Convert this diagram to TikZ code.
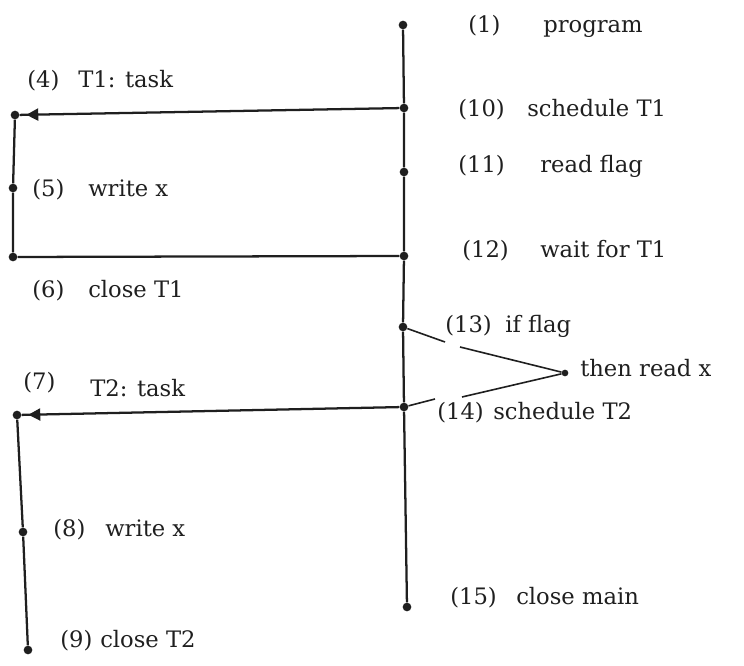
\documentclass[tikz,border=0pt]{standalone}
\usepackage{fontspec}
\setmainfont{DejaVu Serif}
\usetikzlibrary{arrows.meta,decorations.markings}
\definecolor{ink}{gray}{0.12}
\begin{document}
\begin{tikzpicture}[x=0.75pt,y=-0.75pt,
  dot/.style={circle,fill=ink,inner sep=0pt,minimum size=6.5pt},
  smalldot/.style={circle,fill=ink,inner sep=0pt,minimum size=5pt},
  wire/.style={draw=ink,line width=1.7pt},
  thinwire/.style={draw=ink,line width=1.2pt},
  tip/.style={postaction={decorate},decoration={markings,
      mark=at position -5pt with {\arrow{Triangle[length=9pt,width=9pt]}}}},
  lbl/.style={anchor=west,inner sep=0pt,text=ink,text height=11pt,text depth=3.5pt,
      font=\fontsize{17}{19}\selectfont},
  ]
\useasboundingbox (0,0) rectangle (744,666);

% main program thread
\node[dot] (d1)  at (403,25)  {};
\node[dot] (d10) at (404,108) {};
\node[dot] (d11) at (404,172) {};
\node[dot] (d12) at (404,256) {};
\node[dot] (d13) at (403,327) {};
\node[dot] (d14) at (404,407) {};
\node[dot] (d15) at (407,607) {};
\draw[wire] (d1) -- (d10) -- (d11) -- (d12) -- (d13) -- (d14) -- (d15);

% task T1
\node[dot] (d4) at (15,115) {};
\node[dot] (d5) at (13,188) {};
\node[dot] (d6) at (13,257) {};
\draw[wire,tip] (d10) -- (d4);
\draw[wire] (d4) -- (d5) -- (d6) -- (d12);

% task T2
\node[dot] (d7) at (17,415) {};
\node[dot] (d8) at (23,532) {};
\node[dot] (d9) at (28,650) {};
\draw[wire,tip] (d14) -- (d7);
\draw[wire] (d7) -- (d8) -- (d9);

% the conditional read of x
\node[smalldot] (dx) at (565,373) {};
\coordinate (b1) at (445,342);
\coordinate (b2) at (460,347);
\coordinate (b3) at (462,397);
\coordinate (b4) at (435,399);
\draw[thinwire] (d13) -- (b1);
\draw[thinwire] (b2) -- (dx);
\draw[thinwire] (b3) -- (dx);
\draw[thinwire] (d14) -- (b4);

% labels of the main thread
\node[lbl] (n1)  at (468,28)  {(1)};   \node[lbl] (t1)  at (543,28)  {program};
\node[lbl] (n10) at (458,112) {(10)};  \node[lbl] (t10) at (527,112) {schedule T1};
\node[lbl] (n11) at (458,168) {(11)};  \node[lbl] (t11) at (540,168) {read flag};
\node[lbl] (n12) at (462,253) {(12)};  \node[lbl] (t12) at (540,253) {wait for T1};
\node[lbl] (n13) at (445,328) {(13)};  \node[lbl] (t13) at (505,328) {if flag};
\node[lbl] (tx)  at (580,372) {then read x};
\node[lbl] (n14) at (437,415) {(14)};  \node[lbl] (t14) at (493,415) {schedule T2};
\node[lbl] (n15) at (450,600) {(15)};  \node[lbl] (t15) at (516,600) {close main};

% labels of the tasks
\node[lbl] (n4) at (27,83)  {(4)};  \node[lbl] (t4) at (78,83)  {T1: task};
\node[lbl] (n5) at (32,192) {(5)};  \node[lbl] (t5) at (88,192) {write x};
\node[lbl] (n6) at (32,293) {(6)};  \node[lbl] (t6) at (88,293) {close T1};
\node[lbl] (n7) at (23,385) {(7)};  \node[lbl] (t7) at (90,392) {T2: task};
\node[lbl] (n8) at (53,532) {(8)};  \node[lbl] (t8) at (105,532) {write x};
\node[lbl] (n9) at (60,643) {(9)};  \node[lbl] (t9) at (100,643) {close T2};
\end{tikzpicture}
\end{document}
